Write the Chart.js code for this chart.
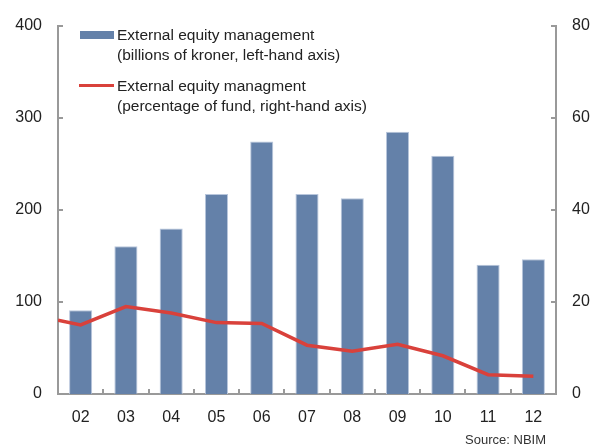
<!DOCTYPE html>
<html>
<head>
<meta charset="utf-8">
<script src="https://cdn.jsdelivr.net/npm/chart.js@4.4.1/dist/chart.umd.min.js"></script>
<style>
  html, body { margin: 0; padding: 0; background: #fff; }
  #wrap { position: relative; width: 596px; height: 448px; }
  canvas { position: absolute; left: 0; top: 0; }
  .txt { position: absolute; font-family: "Liberation Sans", Arial, sans-serif; color: #222; white-space: nowrap; }
  .leg { font-size: 15.5px; line-height: 19.5px; left: 117px; }
  .swatch { position: absolute; }
</style>
</head>
<body>
<div id="wrap">
  <canvas id="c" width="596" height="448"></canvas>
  <div class="swatch" style="left:80px;top:31px;width:34px;height:8px;background:#6481a9;"></div>
  <div class="txt leg" style="top:25px;">External equity management<br>(billions of kroner, left-hand axis)</div>
  <div class="swatch" style="left:79px;top:83.5px;width:35px;height:3px;background:#d9413b;"></div>
  <div class="txt leg" style="top:76px;">External equity managment<br>(percentage of fund, right-hand axis)</div>
  <div class="txt" style="font-size:13px;line-height:15px;top:432px;right:50px;color:#333;">Source: NBIM</div>
</div>
<script>
const categories = ["02","03","04","05","06","07","08","09","10","11","12"];
const billionsNOK = [90.9, 160.4, 179.7, 217.1, 274.1, 217.1, 212.5, 284.8, 258.8, 140.4, 146.2];
const pctStartValue = 16.0;           // line value at the left edge of the chart
const pctOfFund = [15.0, 19.0, 17.6, 15.5, 15.3, 10.6, 9.3, 10.8, 8.3, 4.2, 3.85];
const leftTicks = [0, 100, 200, 300, 400];
const rightTicks = [0, 20, 40, 60, 80];

const linePoints = [{x: -0.5, y: pctStartValue}].concat(pctOfFund.map((v, i) => ({x: i, y: v})));

const AXIS = '#999999';
const FONT = {family: '"Liberation Sans", Arial, sans-serif', size: 16};

const innerTicks = {
  id: 'innerTicks',
  afterDraw(chart) {
    const ctx = chart.ctx, a = chart.chartArea;
    ctx.save();
    ctx.strokeStyle = AXIS;
    ctx.lineWidth = 2;
    const L = 5;
    const yl = chart.scales.y, yr = chart.scales.y2, x = chart.scales.x;
    leftTicks.forEach(v => {
      const p = Math.round(yl.getPixelForValue(v));
      ctx.beginPath(); ctx.moveTo(a.left, p); ctx.lineTo(a.left + L, p); ctx.stroke();
    });
    rightTicks.forEach(v => {
      const p = Math.round(yr.getPixelForValue(v));
      ctx.beginPath(); ctx.moveTo(a.right, p); ctx.lineTo(a.right - L, p); ctx.stroke();
    });
    for (let i = 1; i < categories.length; i++) {
      const p = Math.round((x.getPixelForValue(i - 1) + x.getPixelForValue(i)) / 2);
      ctx.beginPath(); ctx.moveTo(p, a.bottom); ctx.lineTo(p, a.bottom - L); ctx.stroke();
    }
    ctx.restore();
  }
};

new Chart(document.getElementById('c'), {
  type: 'bar',
  data: {
    labels: categories,
    datasets: [
      {
        type: 'line',
        data: linePoints,
        xAxisID: 'x2',
        yAxisID: 'y2',
        borderColor: '#d9413b',
        borderWidth: 3.5,
        pointRadius: 0,
        tension: 0,
        order: 1
      },
      {
        type: 'bar',
        data: billionsNOK,
        xAxisID: 'x',
        yAxisID: 'y',
        backgroundColor: '#6481a9',
        borderColor: '#b8c6dc',
        borderWidth: {left: 1, right: 1, top: 1, bottom: 0},
        grouped: false,
        categoryPercentage: 1.0,
        barPercentage: 0.51,
        order: 2
      }
    ]
  },
  options: {
    responsive: false,
    animation: false,
    events: [],
    layout: {padding: {top: 20, bottom: 0, left: 0, right: 0}},
    plugins: {legend: {display: false}, tooltip: {enabled: false}},
    scales: {
      x: {
        type: 'category',
        position: 'bottom',
        offset: true,
        grid: {display: false, drawTicks: false},
        border: {display: true, color: AXIS, width: 2},
        ticks: {color: '#222', font: FONT, padding: 14, maxRotation: 0},
        afterFit(s) { s.height = 54; }
      },
      x2: {
        type: 'linear',
        display: false,
        offset: false,
        grid: {offset: false},
        min: -0.5,
        max: 10.5
      },
      y: {
        type: 'linear',
        position: 'left',
        min: 0, max: 400,
        afterBuildTicks(s) { s.ticks = leftTicks.map(v => ({value: v})); },
        grid: {display: false, drawTicks: false},
        border: {display: true, color: AXIS, width: 2},
        ticks: {color: '#222', font: FONT, padding: 16},
        afterFit(s) { s.width = 58; }
      },
      y2: {
        type: 'linear',
        position: 'right',
        min: 0, max: 80,
        afterBuildTicks(s) { s.ticks = rightTicks.map(v => ({value: v})); },
        grid: {display: false, drawTicks: false},
        border: {display: true, color: AXIS, width: 2},
        ticks: {color: '#222', font: FONT, padding: 16},
        afterFit(s) { s.width = 40; }
      }
    }
  },
  plugins: [innerTicks]
});
</script>
</body>
</html>
